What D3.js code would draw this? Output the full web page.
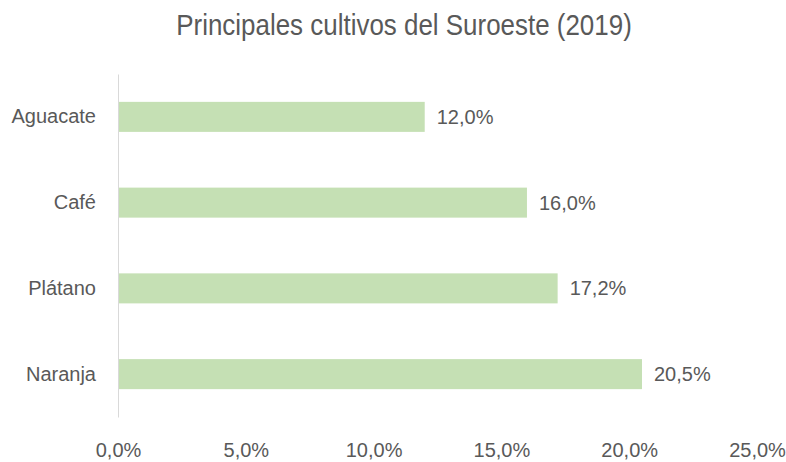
<!DOCTYPE html>
<html>
<head>
<meta charset="utf-8">
<script src="https://cdn.jsdelivr.net/npm/d3@7"></script>
<style>
  body { margin: 0; background: #fff; }
  #chart text { font-family: "Liberation Sans", Arial, sans-serif; fill: #595959; }
</style>
</head>
<body>
<div id="chart"></div>
<script>
(function () {

    // --- data ---
    const cultivos = ["Aguacate", "Café", "Plátano", "Naranja"];
    const porcentajes = [12.0, 16.0, 17.2, 20.5];
    const xTicks = [0, 5, 10, 15, 20, 25];

    const W = 786, H = 462;
    const margin = { top: 74, right: 29, bottom: 45, left: 118 };
    const width = W - margin.left - margin.right;
    const height = H - margin.top - margin.bottom;

    const fmt = v => d3.format(".1f")(v).replace(".", ",") + "%";

    const svg = d3.select("#chart")
        .append("svg")
        .attr("width", W)
        .attr("height", H);

    // Title (slightly condensed, like the narrow font of the original)
    svg.append("text")
        .attr("transform", "translate(404,35) scale(0.865,1)")
        .attr("text-anchor", "middle")
        .style("font-size", "30px")
        .text("Principales cultivos del Suroeste (2019)");

    const g = svg.append("g")
        .attr("transform", `translate(${margin.left},${margin.top})`);

    const x = d3.scaleLinear().domain([0, 25]).range([0, width]);
    const y = d3.scaleBand().domain(cultivos).range([0, height]).paddingInner(0.65).paddingOuter(0.325);

    // Bars
    g.selectAll("rect.bar")
        .data(cultivos)
        .join("rect")
        .attr("class", "bar")
        .attr("x", 0)
        .attr("y", d => y(d))
        .attr("width", (d, i) => x(porcentajes[i]))
        .attr("height", y.bandwidth())
        .attr("fill", "#c5e0b4");

    // Value labels
    g.selectAll("text.val")
        .data(cultivos)
        .join("text")
        .attr("class", "val")
        .attr("x", (d, i) => x(porcentajes[i]) + 12)
        .attr("y", d => y(d) + y.bandwidth() / 2)
        .attr("dy", "0.35em")
        .style("font-size", "20px")
        .text((d, i) => fmt(porcentajes[i]));

    // Y axis
    const yAxis = g.append("g")
        .call(d3.axisLeft(y).tickSize(0).tickPadding(22));
    yAxis.select(".domain").attr("stroke", "#d9d9d9").attr("stroke-width", 1);
    yAxis.selectAll("text").style("font-size", "20px");

    // X axis (labels only)
    const xAxis = g.append("g")
        .attr("transform", `translate(0,${height})`)
        .call(d3.axisBottom(x).tickValues(xTicks).tickSize(0).tickPadding(26).tickFormat(fmt));
    xAxis.select(".domain").remove();
    xAxis.selectAll("text").style("font-size", "20px");
})();
</script>
</body>
</html>
